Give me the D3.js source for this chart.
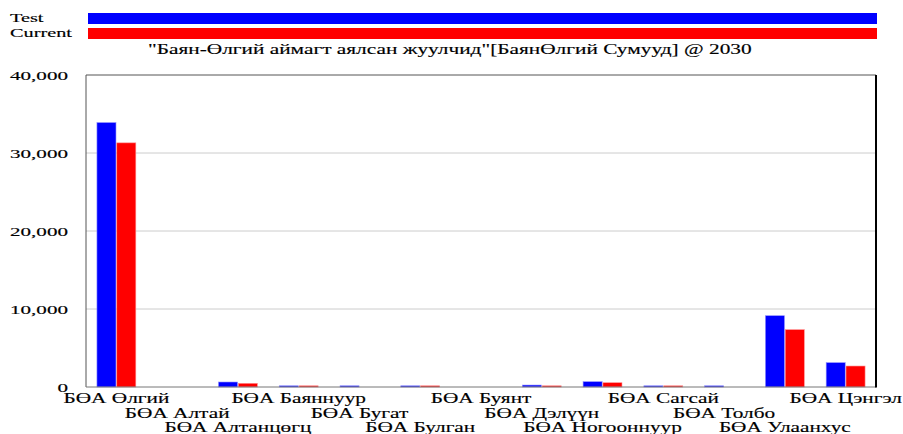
<!DOCTYPE html>
<html><head><meta charset="utf-8">
<script src="https://cdn.jsdelivr.net/npm/d3@7"></script>
<style>body{margin:0;background:#fff}</style>
</head><body>
<svg id="c" width="903" height="434"></svg>
<script>
const categories = ["БӨА Өлгий","БӨА Алтай","БӨА Алтанцөгц","БӨА Баяннуур","БӨА Бугат","БӨА Булган","БӨА Буянт","БӨА Дэлүүн","БӨА Ногооннуур","БӨА Сагсай","БӨА Толбо","БӨА Улаанхус","БӨА Цэнгэл"];
const seriesNames = ["Test","Current"];
const testValues = [33900,0,640,150,150,150,0,250,680,150,150,9140,3120];
const currentValues = [31300,0,470,150,0,150,0,120,550,150,0,7350,2690];
const yTicks = [0,10000,20000,30000,40000];
const title = "\"Баян-Өлгий аймагт аялсан жуулчид\"[БаянӨлгий Сумууд] @ 2030";
const colors = ["#0000ff","#ff0000"];

const FONT = "'Liberation Serif', 'Times New Roman', serif";
const svg = d3.select("#c");
const L=86,R=876,T=75,B=387;
const x = d3.scaleBand().domain(categories).range([L,R]).paddingInner(0.36).paddingOuter(0.18);
const xs = d3.scaleBand().domain(seriesNames).range([0,x.bandwidth()]).paddingInner(0.04);
const y = d3.scaleLinear().domain([0,40000]).range([B,T]);

function stretch(sel, factor){
  sel.each(function(){
    const t=d3.select(this);
    const tx=+t.attr("data-x"), ty=+t.attr("data-y");
    t.attr("transform",`translate(${tx},${ty}) scale(${factor},1)`);
  });
}
function place(g, txt, xx, yy, size, anchor){
  return g.append("text").text(txt).attr("data-x",xx).attr("data-y",yy)
    .attr("font-family",FONT).attr("fill","#000").attr("stroke","#000").attr("stroke-width",0.15)
    .attr("font-size",size).attr("text-anchor",anchor||"start");
}

// legend
const lg = svg.append("g");
const legendTexts = seriesNames.map((s,i)=>place(lg,s,10,22+i*14.5,13.5));
const fL = 62/legendTexts[1].node().getComputedTextLength();
legendTexts.forEach(t=>stretch(t,fL));
seriesNames.forEach((s,i)=>{
  lg.append("rect").attr("x",88).attr("y",13+i*15).attr("width",789).attr("height",11).attr("fill",colors[i]);
});
// title
const tt = place(svg,title,148,54,15.5);
stretch(tt, 604/tt.node().getComputedTextLength());

// grid
svg.append("g").selectAll("line").data(yTicks.filter(d=>d>0&&d<40000)).join("line")
  .attr("x1",L).attr("x2",R).attr("y1",d=>y(d)).attr("y2",d=>y(d)).attr("stroke","#cccccc").attr("stroke-width",1);

// bars
const data = categories.map((c,i)=>({c, v:[testValues[i],currentValues[i]]}));
const bg = svg.append("g").selectAll("g").data(data).join("g").attr("transform",d=>`translate(${x(d.c)},0)`);
bg.selectAll("rect").data(d=>d.v.map((v,k)=>({v,k}))).join("rect")
  .filter(d=>d.v>0)
  .attr("x",d=>xs(seriesNames[d.k])).attr("width",xs.bandwidth())
  .attr("y",d=>Math.min(y(d.v),B-1.2)).attr("height",d=>Math.max(B-y(d.v),1.2))
  .attr("fill",d=>colors[d.k]).attr("stroke",d=>d.k?"#ff9090":"#9090ff").attr("stroke-width",0.6);

// frame
svg.append("line").attr("x1",L).attr("x2",R).attr("y1",T).attr("y2",T).attr("stroke","#555");
svg.append("line").attr("x1",L).attr("x2",L).attr("y1",T).attr("y2",B).attr("stroke","#555");
svg.append("line").attr("x1",L).attr("x2",R).attr("y1",B).attr("y2",B).attr("stroke","#777");
svg.append("line").attr("x1",R).attr("x2",R).attr("y1",T).attr("y2",B+0.5).attr("stroke","#000").attr("stroke-width",2);

// y labels
const fmt = d3.format(",");
const yl = svg.append("g");
const yLabels = yTicks.map(d=>place(yl,fmt(d),68,y(d)+4.5,12.5,"end"));
const fY = 58/yLabels[4].node().getComputedTextLength();
yLabels.forEach(t=>stretch(t,fY));

// x labels staggered
const xl = svg.append("g");
const xLabels = categories.map((c,i)=>place(xl,c,x(c)+x.bandwidth()/2,403+(i%3)*14.5,15,"middle"));
const fX = 106/xLabels[0].node().getComputedTextLength();
xLabels.forEach(t=>stretch(t,fX));
</script>
</body></html>
